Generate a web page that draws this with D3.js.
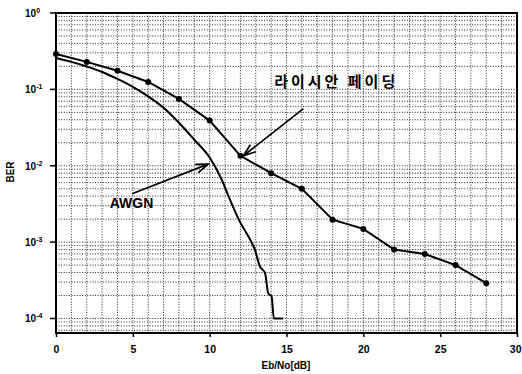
<!DOCTYPE html>
<html>
<head>
<meta charset="utf-8">
<script src="https://cdn.jsdelivr.net/npm/d3@7"></script>
<style>
  body { margin: 0; background: #fff; }
  svg { display: block; font-family: "Liberation Sans", Arial, sans-serif; }
</style>
</head>
<body>
<svg id="chart" width="522" height="374"></svg>
<script>
// Rician fading, markers every 2 dB
const ricianX = [0, 2, 4, 6, 8, 10, 12, 14, 16, 18, 20, 22, 24, 26, 28];
const ricianBer = [0.29, 0.229, 0.175, 0.125, 0.075, 0.039, 0.0135, 0.0080, 0.0050, 0.00197, 0.00149, 0.00080, 0.00070, 0.00050, 0.00029];

// AWGN, no markers
const awgnX = [0, 1, 2, 3, 4, 5, 6, 7, 8, 9, 10, 10.78, 11.32, 11.97, 12.41, 12.95, 13.27, 13.6, 13.81, 14.03, 14.18, 14.79];
const awgnBer = [0.257, 0.229, 0.199, 0.169, 0.137, 0.108, 0.081, 0.0573, 0.0365, 0.0219, 0.0128, 0.0066, 0.0036, 0.00184, 0.00130, 0.00079, 0.00048, 0.000395, 0.000214, 0.000194, 0.0001, 0.0001];

const xTicks = [0, 5, 10, 15, 20, 25, 30];
const yDecades = [0, -1, -2, -3, -4];

const size = { left: 56, right: 517, top: 13, bottom: 333 };

const svg = d3.select('#chart');

const x = d3.scaleLinear().domain([0, 30]).range([size.left, size.right]);
const y = d3.scaleLog().domain([Math.pow(10, -4.19), 1]).range([size.bottom, size.top]);

// grid
const grid = svg.append('g')
    .attr('stroke', '#111')
    .attr('stroke-width', 0.9)
    .attr('stroke-dasharray', '1,1.6');

grid.selectAll('.vgrid')
    .data(d3.range(1, 30))
    .enter()
    .append('line')
    .attr('x1', d => x(d)).attr('x2', d => x(d))
    .attr('y1', size.top).attr('y2', size.bottom);

const hValues = [];
for (let e = -5; e <= 0; e++) {
    for (let m = 1; m <= 9; m++) {
        const v = m * Math.pow(10, e);
        if (v > y.domain()[0] && v < 1) hValues.push(v);
    }
}
grid.selectAll('.hgrid')
    .data(hValues)
    .enter()
    .append('line')
    .attr('x1', size.left).attr('x2', size.right)
    .attr('y1', d => y(d)).attr('y2', d => y(d));

// frame
svg.append('rect')
    .attr('x', size.left).attr('y', size.top)
    .attr('width', size.right - size.left)
    .attr('height', size.bottom - size.top)
    .attr('fill', 'none')
    .attr('stroke', '#000')
    .attr('stroke-width', 2);

// x axis
const xAxis = svg.append('g')
    .attr('transform', `translate(0, ${size.bottom})`)
    .call(d3.axisBottom(x).tickValues(xTicks).tickSize(4).tickPadding(9));
xAxis.select('.domain').remove();
xAxis.selectAll('line').attr('stroke-width', 1.5);
xAxis.selectAll('text')
    .attr('font-size', 10.5)
    .attr('font-weight', 'bold')
    .attr('font-family', '"Liberation Sans", Arial, sans-serif')
    .attr('fill', '#000');
// last label sits against the right edge, as in the scan
xAxis.selectAll('.tick')
    .filter(d => d === 30)
    .select('text')
    .attr('text-anchor', 'end')
    .attr('dx', 4);

// y axis with superscript labels
const yAxis = svg.append('g').attr('transform', `translate(${size.left}, 0)`);
yAxis.selectAll('line')
    .data(yDecades)
    .enter()
    .append('line')
    .attr('x1', -6).attr('x2', 0)
    .attr('y1', d => y(Math.pow(10, d))).attr('y2', d => y(Math.pow(10, d)))
    .attr('stroke', '#000')
    .attr('stroke-width', 1.5);

const yLabels = yAxis.selectAll('text')
    .data(yDecades)
    .enter()
    .append('text')
    .attr('x', -31)
    .attr('y', d => y(Math.pow(10, d)) + 4)
    .attr('font-size', 10)
    .attr('font-weight', 'bold')
    .attr('fill', '#000');
yLabels.append('tspan').text('10');
yLabels.append('tspan')
    .attr('dy', -4)
    .attr('font-size', 7)
    .text(d => d === 0 ? '0' : '-' + Math.abs(d));

// axis titles
svg.append('text')
    .attr('x', 286).attr('y', 369)
    .attr('text-anchor', 'middle')
    .attr('font-size', 10)
    .attr('font-weight', 'bold')
    .text('Eb/No[dB]');

svg.append('text')
    .attr('transform', 'translate(14, 172) rotate(-90)')
    .attr('text-anchor', 'middle')
    .attr('font-size', 10)
    .attr('font-weight', 'bold')
    .text('BER');

// curves
const awgnLine = d3.line().curve(d3.curveMonotoneX).x(d => x(d[0])).y(d => y(d[1]));
const line = d3.line().x(d => x(d[0])).y(d => y(d[1]));

svg.append('path')
    .datum(d3.zip(awgnX, awgnBer))
    .attr('fill', 'none')
    .attr('stroke', '#000')
    .attr('stroke-width', 2)
    .attr('d', awgnLine);

svg.append('path')
    .datum(d3.zip(ricianX, ricianBer))
    .attr('fill', 'none')
    .attr('stroke', '#000')
    .attr('stroke-width', 2)
    .attr('d', line);

svg.selectAll('.marker')
    .data(d3.zip(ricianX, ricianBer))
    .enter()
    .append('circle')
    .attr('class', 'marker')
    .attr('cx', d => x(d[0]))
    .attr('cy', d => y(d[1]))
    .attr('r', 3)
    .attr('fill', '#000');

// annotations with open arrow heads
function arrow(x1, y1, x2, y2) {
    const a = Math.atan2(y2 - y1, x2 - x1);
    const len = 13, spread = 0.35;
    const g = svg.append('g').attr('stroke', '#000').attr('stroke-width', 1.7).attr('fill', 'none');
    g.append('line').attr('x1', x1).attr('y1', y1).attr('x2', x2).attr('y2', y2);
    g.append('polyline').attr('points', [
        [x2 - len * Math.cos(a - spread), y2 - len * Math.sin(a - spread)],
        [x2, y2],
        [x2 - len * Math.cos(a + spread), y2 - len * Math.sin(a + spread)]
    ].map(p => p.join(',')).join(' '));
}

svg.append('text')
    .attr('x', x(14.2)).attr('y', 87)
    .attr('font-family', '"Noto Sans CJK KR", sans-serif')
    .attr('font-size', 15)
    .attr('font-weight', 'bold')
    .attr('letter-spacing', 3)
    .attr('fill', '#000')
    .text('라이시안 페이딩');
arrow(x(16.1), y(0.056), x(12.2), y(0.0135));

svg.append('text')
    .attr('x', x(3.5)).attr('y', 208)
    .attr('font-size', 14)
    .attr('font-weight', 'bold')
    .attr('fill', '#000')
    .text('AWGN');
arrow(x(4.95), y(0.0043), x(9.9), y(0.0105));
</script>
</body>
</html>
